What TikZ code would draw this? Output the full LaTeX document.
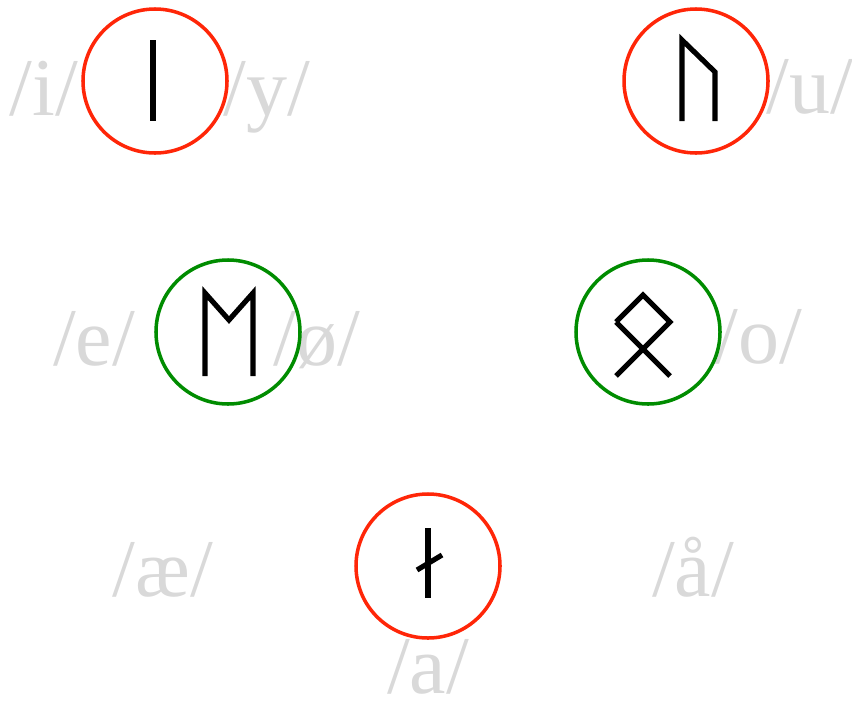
\documentclass[tikz,border=0pt]{standalone}
\usepackage{fontspec}
\setmainfont{Liberation Serif}
\definecolor{ringred}{RGB}{255,38,8}
\definecolor{ringgreen}{RGB}{0,140,0}
\definecolor{soundgray}{RGB}{217,217,217}
\begin{document}
\begin{tikzpicture}[
        x=0.03cm, y=-0.03cm,
        ring/.style={
            circle,
            draw=#1,
            line width=3pt,
            minimum size=4.32cm,
            inner sep=0pt
        },
        phon/.style={
            anchor=base,
            inner sep=0pt,
            text=soundgray,
            font=\fontsize{70}{70}\selectfont
        },
        rune/.style={
            line width=4.4pt,
            black,
            line join=miter
        }
    ]
        \useasboundingbox (0,0) rectangle (852,700);

        % Lydverdier
        \foreach \snd/\x/\y [count=\i] in {i/44/115, y/267/115, u/810/113,
                e/94/365, ø/317/365, o/759/363,
                æ/163/596, å/693/596, a/428/693} {
            \node[phon] (p\i) at (\x,\y) {/\snd/};
        }

        % Ringer rundt runene
        \node[ring=ringred] (ri) at (155,81) {};
        \node[ring=ringred] (ru) at (696,81) {};
        \node[ring=ringgreen] (re) at (228,332) {};
        \node[ring=ringgreen] (ro) at (648,332) {};
        \node[ring=ringred] (ra) at (428,566) {};

        % Runene
        \draw[rune] (153,40) -- (153,121);
        \draw[rune] (682,121) -- (682,40) -- (715,72) -- (715,121);
        \draw[rune] (205,376) -- (205,293) -- (229,320) -- (253,293) -- (253,376);
        \draw[rune] (616,322) -- (643,295) -- (670,322) -- (616,376);
        \draw[rune] (616,322) -- (670,376);
        \draw[rune] (428,528) -- (428,598);
        \draw[rune] (417,570) -- (442,555);
    \end{tikzpicture}
\end{document}
